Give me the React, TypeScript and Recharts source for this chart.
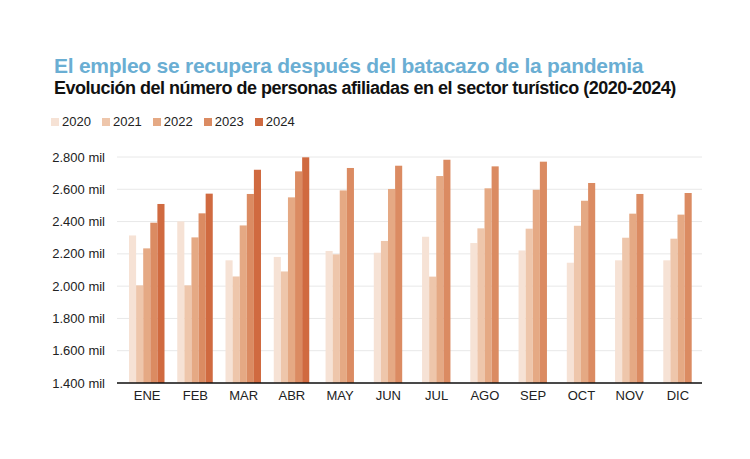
import { BarChart, Bar, XAxis, YAxis, CartesianGrid } from 'recharts';

const MONTHS = ['ENE', 'FEB', 'MAR', 'ABR', 'MAY', 'JUN', 'JUL', 'AGO', 'SEP', 'OCT', 'NOV', 'DIC'];
const YEARS = ['2020', '2021', '2022', '2023', '2024'];
const COLORS = ['#f6e2d5', '#eec6ab', '#e5a984', '#db8b62', '#d06a40'];

// miles de afiliados
const Y2020 = [2314, 2401, 2160, 2181, 2218, 2207, 2306, 2267, 2221, 2145, 2160, 2160];
const Y2021 = [2005, 2005, 2060, 2091, 2197, 2280, 2059, 2358, 2356, 2374, 2300, 2294];
const Y2022 = [2234, 2302, 2376, 2550, 2593, 2602, 2682, 2606, 2597, 2529, 2449, 2443];
const Y2023 = [2393, 2451, 2571, 2711, 2732, 2746, 2783, 2742, 2771, 2639, 2571, 2577];
const Y2024 = [2509, 2573, 2721, 2798, null, null, null, null, null, null, null, null];
const Y_TICKS = [1400, 1600, 1800, 2000, 2200, 2400, 2600, 2800];

const SERIES = [Y2020, Y2021, Y2022, Y2023, Y2024];

const data = MONTHS.map((m, i) => {
  const row: Record<string, string | number | null> = { month: m };
  YEARS.forEach((y, k) => (row['y' + y] = SERIES[k][i]));
  return row;
});

const FONT = '"Liberation Sans", Arial, sans-serif';

const fmt = (v: number) => `${Math.floor(v / 1000)}.${String(v % 1000).padStart(3, '0')} mil`;

// months without 2024 data get their 4 bars centred in the group
const ShiftedBar = (props: any) => {
  const { x, y, width, height, fill, payload } = props;
  if (!height || height <= 0) return null;
  const dx = payload.y2024 == null ? width / 2 : 0;
  return <rect x={x + dx} y={y} width={width} height={height} fill={fill} />;
};

export default function App() {
  return (
    <div style={{ position: 'absolute', left: 0, top: 0, width: 750, height: 459, background: '#fff', fontFamily: FONT }}>
      <div style={{ position: 'absolute', left: 54, top: 54, fontSize: 21, fontWeight: 700, color: '#6aaed3', letterSpacing: -0.25, whiteSpace: 'nowrap' }}>
        El empleo se recupera después del batacazo de la pandemia
      </div>
      <div style={{ position: 'absolute', left: 54, top: 78, fontSize: 18, fontWeight: 700, color: '#111', letterSpacing: -0.5, whiteSpace: 'nowrap' }}>
        Evolución del número de personas afiliadas en el sector turístico (2020-2024)
      </div>
      <div style={{ position: 'absolute', left: 51, top: 114, display: 'flex', gap: 11, fontSize: 13, color: '#222' }}>
        {YEARS.map((y, k) => (
          <div key={y} style={{ display: 'flex', alignItems: 'center', gap: 3 }}>
            <span style={{ width: 8, height: 8, background: COLORS[k], display: 'inline-block' }} />
            <span>{y}</span>
          </div>
        ))}
      </div>
      <BarChart
        width={750}
        height={459}
        data={data}
        margin={{ top: 157, right: 48, bottom: 46, left: 17 }}
        barGap={0}
        barSize={7.1}
      >
        <CartesianGrid vertical={false} stroke="#e8e8e8" />
        <XAxis
          dataKey="month"
          height={30}
          padding={{ left: 6, right: 0 }}
          tickLine={false}
          tickSize={0}
          tickMargin={8}
          axisLine={{ stroke: '#111', strokeWidth: 1.5 }}
          tick={{ fill: '#222', fontSize: 13, fontFamily: FONT }}
        />
        <YAxis
          width={100}
          domain={[1400, 2800]}
          ticks={Y_TICKS}
          allowDataOverflow
          axisLine={false}
          tickLine={false}
          tickSize={0}
          tickMargin={12}
          tickFormatter={fmt}
          tick={{ fill: '#222', fontSize: 13, fontFamily: FONT }}
        />
        {YEARS.map((y, k) => (
          <Bar
            key={y}
            dataKey={'y' + y}
            name={y}
            fill={COLORS[k]}
            shape={ShiftedBar}
            isAnimationActive={false}
          />
        ))}
      </BarChart>
    </div>
  );
}
